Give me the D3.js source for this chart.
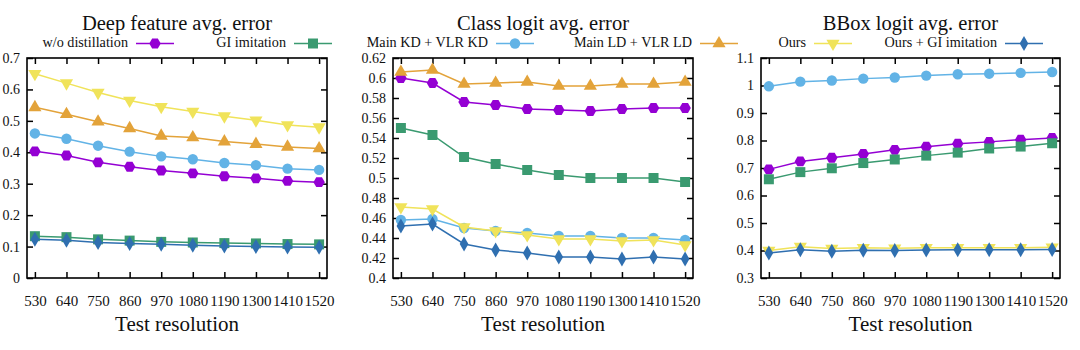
<!DOCTYPE html>
<html>
<head>
<meta charset="utf-8">
<script src="https://cdn.jsdelivr.net/npm/d3@7"></script>
<style>
  body { margin: 0; background: #fff; }
  text { font-family: "Liberation Serif", "DejaVu Serif", "Times New Roman", serif; fill: #111; }
</style>
</head>
<body>
<div id="wrapper"></div>
<script>
// Data

const resolutions = [530, 640, 750, 860, 970, 1080, 1190, 1300, 1410, 1520];

const seriesNames = ["w/o distillation", "GI imitation", "Main KD + VLR KD", "Main LD + VLR LD", "Ours", "Ours + GI imitation"];

// Deep feature avg. error
const deepWoDistill = [0.403, 0.390, 0.368, 0.354, 0.342, 0.333, 0.324, 0.317, 0.309, 0.305];
const deepGI        = [0.133, 0.130, 0.123, 0.119, 0.115, 0.113, 0.111, 0.110, 0.108, 0.107];
const deepMainKD    = [0.460, 0.443, 0.421, 0.402, 0.387, 0.378, 0.366, 0.359, 0.348, 0.344];
const deepMainLD    = [0.543, 0.521, 0.497, 0.476, 0.452, 0.447, 0.434, 0.426, 0.417, 0.412];
const deepOurs      = [0.650, 0.620, 0.590, 0.565, 0.545, 0.530, 0.515, 0.502, 0.487, 0.480];
const deepOursGI    = [0.123, 0.120, 0.113, 0.110, 0.107, 0.104, 0.102, 0.100, 0.099, 0.098];

// Class logit avg. error
const clsWoDistill = [0.600, 0.595, 0.576, 0.573, 0.569, 0.568, 0.567, 0.569, 0.570, 0.570];
const clsGI        = [0.550, 0.543, 0.521, 0.514, 0.508, 0.503, 0.500, 0.500, 0.500, 0.496];
const clsMainKD    = [0.458, 0.459, 0.450, 0.447, 0.445, 0.442, 0.442, 0.440, 0.440, 0.438];
const clsMainLD    = [0.606, 0.608, 0.594, 0.595, 0.596, 0.592, 0.592, 0.594, 0.594, 0.596];
const clsOurs      = [0.471, 0.469, 0.451, 0.447, 0.443, 0.439, 0.439, 0.437, 0.438, 0.433];
const clsOursGI    = [0.452, 0.454, 0.434, 0.428, 0.425, 0.421, 0.421, 0.419, 0.421, 0.419];

// BBox logit avg. error
const boxWoDistill = [0.695, 0.724, 0.737, 0.751, 0.766, 0.777, 0.788, 0.795, 0.803, 0.809];
const boxGI        = [0.659, 0.685, 0.699, 0.718, 0.731, 0.745, 0.756, 0.771, 0.778, 0.790];
const boxMainKD    = [0.997, 1.014, 1.018, 1.025, 1.029, 1.036, 1.041, 1.043, 1.046, 1.049];
const boxMainLD    = null; // not plotted in this panel
const boxOurs      = [0.400, 0.414, 0.407, 0.410, 0.408, 0.410, 0.410, 0.410, 0.410, 0.412];
const boxOursGI    = [0.391, 0.403, 0.397, 0.401, 0.400, 0.402, 0.403, 0.403, 0.403, 0.404];

const deepTicks = [0, 0.1, 0.2, 0.3, 0.4, 0.5, 0.6, 0.7];
const clsTicks  = [0.4, 0.42, 0.44, 0.46, 0.48, 0.5, 0.52, 0.54, 0.56, 0.58, 0.6, 0.62];
const boxTicks  = [0.3, 0.4, 0.5, 0.6, 0.7, 0.8, 0.9, 1, 1.1];

// Styles

const colors = ["#9400d3", "#3a9a70", "#62b3e6", "#e3a33a", "#f0e35a", "#2f6fb0"];
const fontFamily = "Liberation Serif, DejaVu Serif, serif";

const symbolHex = {
	draw(ctx, size) {
		const r = Math.sqrt(size / (3 * Math.sqrt(3) / 2));
		for (let i = 0; i < 6; i++) {
			const a = Math.PI / 3 * i;
			const x = r * Math.cos(a), y = r * Math.sin(a);
			if (i === 0) ctx.moveTo(x, y); else ctx.lineTo(x, y);
		}
		ctx.closePath();
	}
};
const symbolTriDown = {
	draw(ctx, size) {
		const y = -Math.sqrt(size / (Math.sqrt(3) * 3));
		ctx.moveTo(0, -y * 2);
		ctx.lineTo(-Math.sqrt(3) * y, y);
		ctx.lineTo(Math.sqrt(3) * y, y);
		ctx.closePath();
	}
};
const symbols = [
	d3.symbol().type(symbolHex).size(85),
	d3.symbol().type(d3.symbolSquare).size(100),
	d3.symbol().type(d3.symbolCircle).size(85),
	d3.symbol().type(d3.symbolTriangle).size(75),
	d3.symbol().type(symbolTriDown).size(75),
	d3.symbol().type(d3.symbolDiamond).size(65)
];

// Panels

const panels = [
	{ title: "Deep feature avg. error", left: 27, right: 327, ticks: deepTicks,
	  series: [deepWoDistill, deepGI, deepMainKD, deepMainLD, deepOurs, deepOursGI],
	  legend: [{ i: 0, end: 128 }, { i: 1, end: 286 }] },
	{ title: "Class logit avg. error", left: 393, right: 693, ticks: clsTicks,
	  series: [clsWoDistill, clsGI, clsMainKD, clsMainLD, clsOurs, clsOursGI],
	  legend: [{ i: 2, end: 488 }, { i: 3, end: 692 }] },
	{ title: "BBox logit avg. error", left: 761, right: 1060, ticks: boxTicks,
	  series: [boxWoDistill, boxGI, boxMainKD, boxMainLD, boxOurs, boxOursGI],
	  legend: [{ i: 4, end: 806 }, { i: 5, end: 997 }] }
];

const dims = { width: 1080, height: 350, top: 58, bottom: 278 };

const svg = d3.select("#wrapper")
	.append("svg")
	.attr("width", dims.width)
	.attr("height", dims.height);

svg.append("rect").attr("width", dims.width).attr("height", dims.height).attr("fill", "#fff");

panels.forEach(p => {
	const g = svg.append("g");

	const xScale = d3.scalePoint()
		.domain(resolutions)
		.range([p.left, p.right])
		.padding(0.25);

	const yScale = d3.scaleLinear()
		.domain(d3.extent(p.ticks))
		.range([dims.bottom, dims.top]);

	const tickLen = 6;

	// axes (gnuplot style: inward ticks, mirrored)
	g.append("g")
		.attr("transform", `translate(0,${dims.bottom})`)
		.call(d3.axisBottom(xScale).tickSize(-tickLen).tickPadding(17))
		.call(a => a.select(".domain").remove())
		.call(a => a.selectAll("line").attr("stroke", "#000").attr("stroke-width", 1.5))
		.call(a => a.selectAll("text").attr("font-size", 15).attr("font-family", fontFamily).attr("fill", "#111"));

	g.append("g")
		.attr("transform", `translate(0,${dims.top})`)
		.call(d3.axisTop(xScale).tickSize(-tickLen).tickFormat(""))
		.call(a => a.select(".domain").remove())
		.call(a => a.selectAll("line").attr("stroke", "#000").attr("stroke-width", 1.5));

	g.append("g")
		.attr("transform", `translate(${p.left},0)`)
		.call(d3.axisLeft(yScale).tickValues(p.ticks).tickFormat(d3.format("~g")).tickSize(-tickLen).tickPadding(7))
		.call(a => a.select(".domain").remove())
		.call(a => a.selectAll("line").attr("stroke", "#000").attr("stroke-width", 1.5))
		.call(a => a.selectAll("text").attr("font-size", 14).attr("font-family", fontFamily).attr("fill", "#111"));

	g.append("g")
		.attr("transform", `translate(${p.right},0)`)
		.call(d3.axisRight(yScale).tickValues(p.ticks).tickFormat("").tickSize(-tickLen))
		.call(a => a.select(".domain").remove())
		.call(a => a.selectAll("line").attr("stroke", "#000").attr("stroke-width", 1.5));

	// frame
	g.append("rect")
		.attr("x", p.left).attr("y", dims.top)
		.attr("width", p.right - p.left).attr("height", dims.bottom - dims.top)
		.attr("fill", "none").attr("stroke", "#000").attr("stroke-width", 1.6);

	// title and x label
	const cx = (p.left + p.right) / 2;
	g.append("text").attr("x", cx).attr("y", 30).attr("text-anchor", "middle")
		.attr("font-size", 20.5).text(p.title);
	g.append("text").attr("x", cx).attr("y", 331).attr("text-anchor", "middle")
		.attr("font-size", 21).text("Test resolution");

	// series
	const line = d3.line()
		.x((d, i) => xScale(resolutions[i]))
		.y(d => yScale(d));

	p.series.forEach((values, s) => {
		if (!values) return;
		g.append("path")
			.datum(values)
			.attr("d", line)
			.attr("fill", "none")
			.attr("stroke", colors[s])
			.attr("stroke-width", 1.5);
		g.selectAll(`.pt-${s}`)
			.data(values)
			.join("path")
			.attr("class", `pt-${s}`)
			.attr("transform", (d, i) => `translate(${xScale(resolutions[i])},${yScale(d)})`)
			.attr("d", symbols[s])
			.attr("fill", colors[s]);
	});

	// legend
	p.legend.forEach(l => {
		const ly = 43.5;
		g.append("text").attr("x", l.end).attr("y", 47).attr("text-anchor", "end")
			.attr("font-size", 14.2).text(seriesNames[l.i]);
		g.append("line").attr("x1", l.end + 8).attr("x2", l.end + 46)
			.attr("y1", ly).attr("y2", ly)
			.attr("stroke", colors[l.i]).attr("stroke-width", 1.5);
		g.append("path").attr("transform", `translate(${l.end + 27},${ly})`)
			.attr("d", symbols[l.i]).attr("fill", colors[l.i]);
	});
});
</script>
</body>
</html>
